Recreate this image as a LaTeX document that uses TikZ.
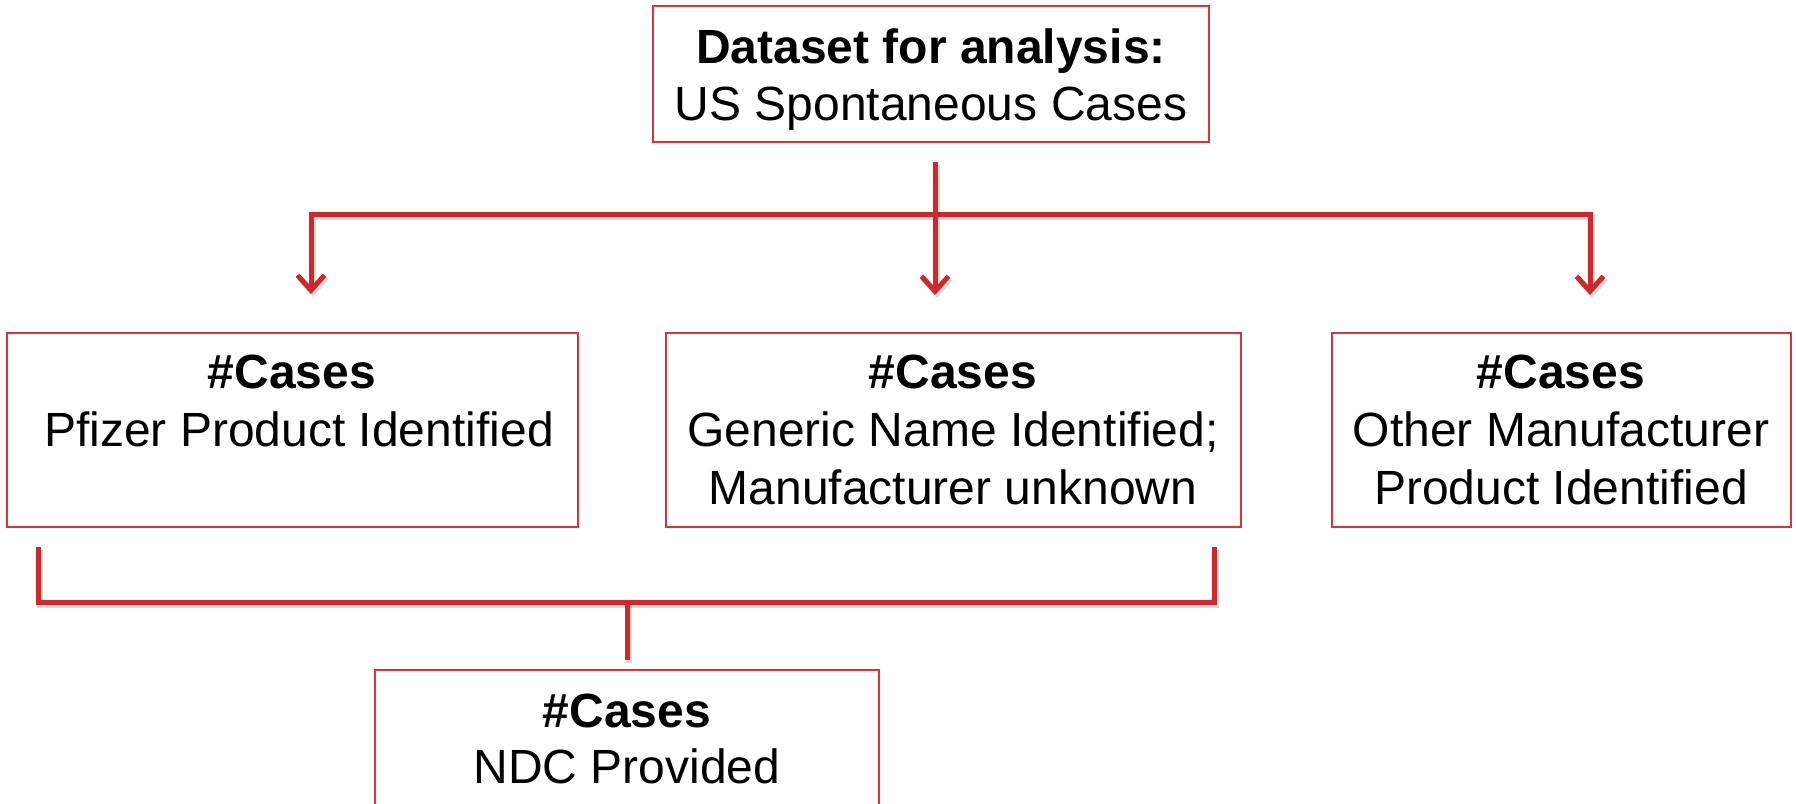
\documentclass[tikz,border=0pt]{standalone}
\usepackage{fontspec}
\setmainfont{Liberation Sans}
\usetikzlibrary{arrows.meta}
\definecolor{lnred}{RGB}{205,40,44}
\definecolor{bxred}{RGB}{218,52,56}
\begin{document}
\begin{tikzpicture}[x=1pt,y=-1pt,
  box/.style={draw=bxred, line width=2pt, inner sep=0pt},
  txt/.style={anchor=base, inner sep=0pt, font=\fontsize{48}{58}\selectfont},
  btxt/.style={anchor=base, inner sep=0pt, font=\fontsize{48}{58}\selectfont\bfseries},
  conn/.style={draw=lnred, line width=5pt,
    preaction={draw=black, opacity=0.15, line width=6pt, transform canvas={shift={(2pt,-3pt)}}}},
  arr/.style={-{Straight Barb[length=15pt,width=27pt]}}
]
\useasboundingbox (0,0) rectangle (1796,803);
% boxes
\node[box, minimum width=556pt, minimum height=136pt] (top) at (931,74) {};
\node[box, minimum width=571pt, minimum height=194pt] (pfz) at (292.5,430) {};
\node[box, minimum width=575pt, minimum height=194pt] (gen) at (953.5,430) {};
\node[box, minimum width=459pt, minimum height=194pt] (oth) at (1561.5,430) {};
\node[box, minimum width=504pt, minimum height=170pt] (ndc) at (627,755) {};
% texts
\node[btxt] (top1) at (931,63) {Dataset for analysis:};
\node[txt]  (top2) at (931,120) {US Spontaneous Cases};
\node[btxt] (pfz1) at (292,388) {\#Cases};
\node[txt]  (pfz2) at (299,446) {Pfizer Product Identified};
\node[btxt] (gen1) at (953,388) {\#Cases};
\node[txt]  (gen2) at (953,446) {Generic Name Identified;};
\node[txt]  (gen3) at (953,504) {Manufacturer unknown};
\node[btxt] (oth1) at (1561,388) {\#Cases};
\node[txt]  (oth2) at (1561,446) {Other Manufacturer};
\node[txt]  (oth3) at (1561,504) {Product Identified};
\node[btxt] (ndc1) at (627,727) {\#Cases};
\node[txt]  (ndc2) at (627,783) {NDC Provided};
% connector points
\coordinate (ts) at (935,162);
\coordinate (hub) at (935,214);
\coordinate (tm) at (935,295);
\coordinate (tl) at (311,294);
\coordinate (tr) at (1590,295);
\coordinate (bl) at (38,547);
\coordinate (br) at (1214,547);
\coordinate (bm) at (627,602);
\coordinate (bs) at (627,660);
% connectors
\draw[conn,arr] (hub) -| (tl);
\draw[conn,arr] (hub) -| (tr);
\draw[conn,arr] (ts) -- (tm);
\draw[conn] (bl) |- (bm) -| (br);
\draw[conn] (bm) -- (bs);
\end{tikzpicture}
\end{document}
